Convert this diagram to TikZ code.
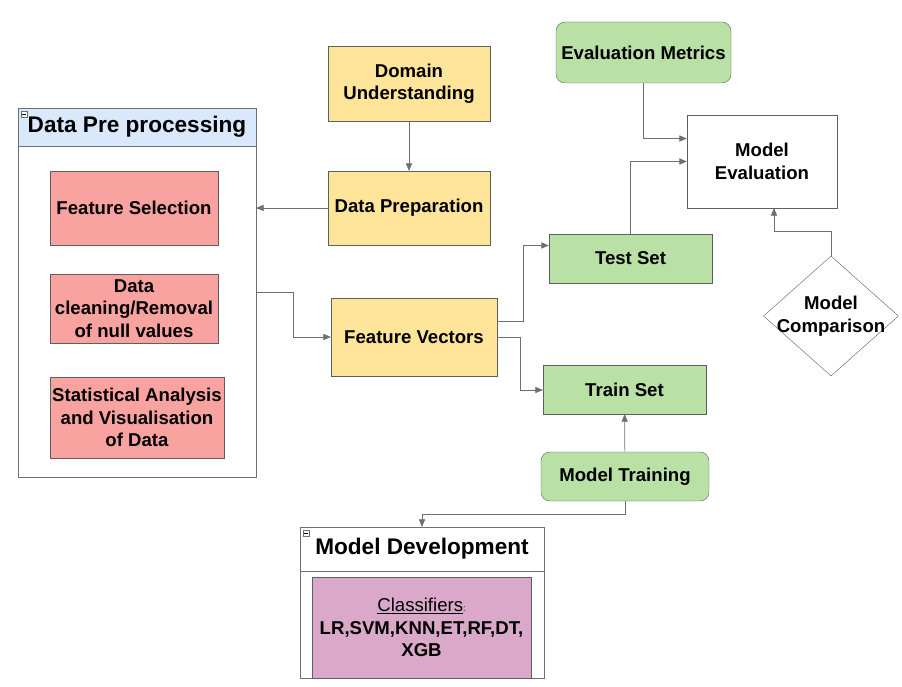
\documentclass[tikz,border=0pt]{standalone}
\usepackage{fontspec}
\setmainfont{Liberation Sans}
\usepackage{xcolor}
\usepackage{tikz}
\usetikzlibrary{arrows,shapes.geometric}

\definecolor{linegray}{HTML}{6F6F6F}
\definecolor{boxline}{HTML}{5F5F5F}
\definecolor{yellowfill}{HTML}{FFE599}
\definecolor{redfill}{HTML}{F9A3A0}
\definecolor{greenfill}{HTML}{B9E0A5}
\definecolor{purplefill}{HTML}{DAA9CA}
\definecolor{headfill}{HTML}{DAE8FC}

\tikzset{
  stagebox/.style={rectangle, draw=boxline, inner sep=1pt, align=center,
    font=\fontsize{18.6}{22.5}\selectfont\bfseries},
  yellowbox/.style={stagebox, fill=yellowfill},
  redbox/.style={stagebox, fill=redfill},
  greenbox/.style={stagebox, fill=greenfill},
  roundbox/.style={greenbox, rounded corners=9pt},
  groupbox/.style={rectangle, draw=linegray, fill=white, inner sep=0pt},
  headbox/.style={rectangle, draw=linegray, inner sep=0pt,
    font=\fontsize{22.6}{26}\selectfont\bfseries},
  conn/.style={->, draw=linegray, >=triangle 45, line width=0.7pt},
}

\begin{document}
\begin{tikzpicture}[x=1pt,y=-1pt]
		\useasboundingbox (0,0) rectangle (902,687);
		% data pre processing group
		\node[groupbox, minimum width=238, minimum height=369] (pre) at (137,292.5) {};
		\node[headbox, fill=headfill, minimum width=238, minimum height=38] (prehead) at (137,127) {Data Pre processing};
		\node[redbox, minimum width=168, minimum height=74] (featsel) at (134,208) {Feature Selection};
		\node[redbox, minimum width=168, minimum height=69] (clean) at (134,308.5) {Data\\cleaning/Removal\\of null values};
		\node[redbox, minimum width=174, minimum height=81] (stats) at (137,417.5) {Statistical Analysis\\and Visualisation\\of Data};
		%
		\node[yellowbox, minimum width=162, minimum height=75] (domain) at (409,83.5) {Domain\\Understanding};
		\node[yellowbox, minimum width=162, minimum height=74] (dataprep) at (409,208) {Data Preparation};
		\node[yellowbox, minimum width=166, minimum height=78] (featvec) at (414,337) {Feature Vectors};
		\node[greenbox, minimum width=163, minimum height=49] (testset) at (630.5,258.5) {Test Set};
		\node[greenbox, minimum width=163, minimum height=49] (trainset) at (624.5,389.5) {Train Set};
		\node[roundbox, minimum width=168, minimum height=49] (training) at (625,476.5) {Model Training};
		\node[roundbox, minimum width=175, minimum height=61] (metrics) at (643.5,52.5) {Evaluation Metrics};
		\node[stagebox, fill=white, minimum width=150, minimum height=93] (evaluation) at (762,161.5) {Model\\Evaluation};
		\node[stagebox, diamond, fill=white, minimum width=135, minimum height=120, inner sep=0pt,
			label={[font=\fontsize{18.6}{22.5}\selectfont\bfseries, align=center]center:Model\\Comparison}] (comparison) at (831,316) {};
		%
		% model development group
		\node[groupbox, minimum width=244, minimum height=151] (dev) at (422,602.5) {};
		\node[headbox, minimum width=244, minimum height=44] (devhead) at (422,549) {Model Development};
		\node[stagebox, fill=purplefill, minimum width=219, minimum height=101, font=\fontsize{18.6}{22.5}\selectfont] (classif) at (421.5,627.5)
			{\underline{Classifiers}{\fontsize{9}{9}\selectfont:}\\\textbf{LR,SVM,KNN,ET,RF,DT,}\\\textbf{XGB}};
		%
		% collapse marks
		\draw[linegray, fill=white] (21,111) rectangle (27,117);
		\draw[black] (22,114) -- (26,114);
		\draw[linegray, fill=white] (303,530) rectangle (309,536);
		\draw[black] (304,533) -- (308,533);
		%
		% vertical arrows
		\draw[conn] (domain) -- (dataprep);
		\draw[conn] (training) -- (trainset);
		\draw[conn] (training.south) -- ++(0,13) -| (dev.north);
		\draw[conn] (comparison.north) -- ++(0,-24) -| ([xshift=12pt]evaluation.south);
		% horizontal arrows
		\draw[conn] (dataprep) -- (pre.east |- dataprep.west);
		\draw[conn] (pre.east) -- ++(37,0) |- (featvec.west);
		\draw[conn] ([yshift=16pt]featvec.east) -- ++(26,0) |- ([yshift=13pt]testset.west);
		\draw[conn] (featvec.east) -- ++(23,0) |- ([yshift=-0.5pt]trainset.west);
		\draw[conn] (metrics.south) |- ([yshift=23pt]evaluation.west);
		\draw[conn] (testset.north) |- (evaluation.west);
	\end{tikzpicture}
\end{document}
